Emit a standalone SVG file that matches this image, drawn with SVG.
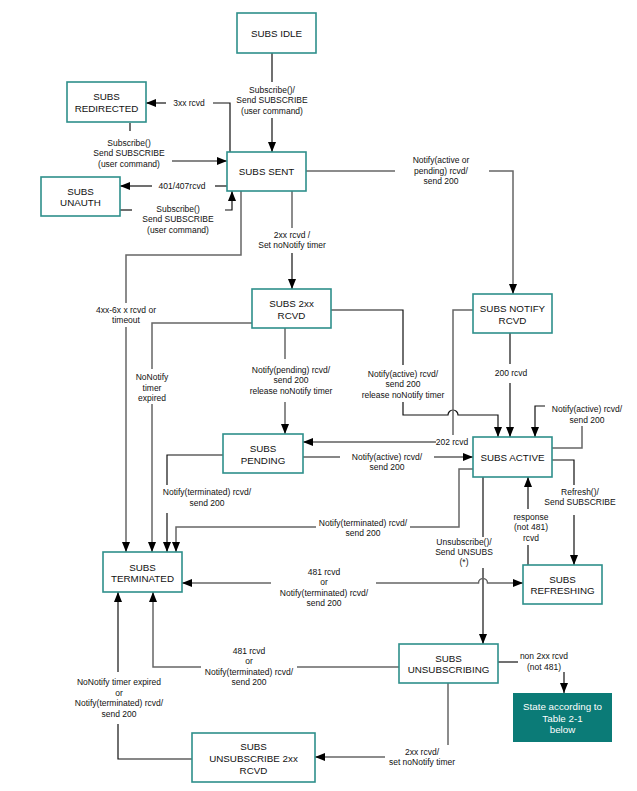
<svg xmlns="http://www.w3.org/2000/svg" width="637" height="791" viewBox="0 0 637 791">
<style>
  .box { fill: #ffffff; stroke: #2e8f8b; stroke-width: 1.6; }
  .fbox { fill: #0b7b77; stroke: none; }
  .n { font-family: "Liberation Sans", Arial, sans-serif; font-size: 9.8px; fill: #111; text-anchor: middle; dominant-baseline: central; }
  .nw { font-family: "Liberation Sans", Arial, sans-serif; font-size: 9.8px; fill: #ffffff; text-anchor: middle; dominant-baseline: central; }
  .l { font-family: "Liberation Sans", Arial, sans-serif; font-size: 8.5px; fill: #111; text-anchor: middle; dominant-baseline: central; }
  .k { fill: none; stroke: #111; stroke-width: 1.2; }
  .g { fill: none; stroke: #666; stroke-width: 1.5; }
</style>
<defs>
  <marker id="ah" markerUnits="userSpaceOnUse" markerWidth="10" markerHeight="8" refX="10" refY="4" orient="auto">
    <path d="M0,0 L10,4 L0,8 z" fill="#000"/>
  </marker>
</defs>
<rect width="637" height="791" fill="#ffffff"/>

<g id="connectors">
  <g id="c-idle-sent"><path class="k" d="M272,53 V82"/><path class="k" d="M272,118 V152" marker-end="url(#ah)"/>
    <text class="l" x="272"><tspan x="272" y="90">Subscribe()/</tspan><tspan x="272" y="100">Send SUBSCRIBE</tspan><tspan x="272" y="111">(user command)</tspan></text></g>
  <g id="c-sent-redirected"><path class="k" d="M230,152 V103 H213"/><path class="k" d="M166,103 H146" marker-end="url(#ah)"/>
    <text class="l" x="189" y="103">3xx rcvd</text></g>
  <g id="c-redirected-sent"><path class="k" d="M130,123 V131"/><path class="k" d="M172,161 H227" marker-end="url(#ah)"/>
    <text class="l"><tspan x="129" y="143">Subscribe()</tspan><tspan x="129" y="153">Send SUBSCRIBE</tspan><tspan x="129" y="164">(user command)</tspan></text></g>
  <g id="c-sent-unauth"><path class="k" d="M227,186 H215"/><path class="k" d="M152,186 H120" marker-end="url(#ah)"/>
    <text class="l" x="182" y="186">401/407rcvd</text></g>
  <g id="c-unauth-sent"><path class="k" d="M120,210 H132"/><path class="k" d="M225,210 H232 V191" marker-end="url(#ah)"/>
    <text class="l"><tspan x="178" y="209">Subscribe()</tspan><tspan x="178" y="219">Send SUBSCRIBE</tspan><tspan x="178" y="230">(user command)</tspan></text></g>
  <g id="c-sent-terminated"><path class="g" d="M241,191 V255 H126 V303"/><path class="g" d="M126,327 V552" marker-end="url(#ah)"/>
    <text class="l"><tspan x="126" y="310">4xx-6x x rcvd or</tspan><tspan x="126" y="320">timeout</tspan></text></g>
  <g id="c-sent-2xx"><path class="g" d="M292,191 V228"/><path class="k" d="M292,253 V289" marker-end="url(#ah)"/>
    <text class="l"><tspan x="292" y="235">2xx rcvd /</tspan><tspan x="292" y="245">Set noNotify timer</tspan></text></g>
  <g id="c-sent-notify"><path class="g" d="M306,171 H395"/><path class="g" d="M489,171 H513 V294" marker-end="url(#ah)"/>
    <text class="l"><tspan x="441" y="160">Notify(active or</tspan><tspan x="441" y="171">pending) rcvd/</tspan><tspan x="441" y="181">send 200</tspan></text></g>
  <g id="c-2xx-terminated"><path class="g" d="M252,323 H152 V369"/><path class="g" d="M152,404 V552" marker-end="url(#ah)"/>
    <text class="l"><tspan x="152" y="377">NoNotify</tspan><tspan x="152" y="388">timer</tspan><tspan x="152" y="398">expired</tspan></text></g>
  <g id="c-2xx-pending"><path class="g" d="M285,328 V359"/><path class="g" d="M285,402 V434" marker-end="url(#ah)"/>
    <text class="l"><tspan x="291" y="370">Notify(pending) rcvd/</tspan><tspan x="291" y="380">send 200</tspan><tspan x="291" y="391">release noNotify timer</tspan></text></g>
  <g id="c-2xx-active"><path class="k" d="M331,310 H403 V365"/><path class="k" d="M403,402 V415 H448 A5,5 0 0 1 458,415 H498 V437" marker-end="url(#ah)"/>
    <text class="l"><tspan x="403" y="374">Notify(active) rcvd/</tspan><tspan x="403" y="384">send 200</tspan><tspan x="403" y="395">release noNotify timer</tspan></text></g>
  <g id="c-notify-pending"><path class="g" d="M473,310 H453 V435"/><path class="k" d="M436,442 H303" marker-end="url(#ah)"/>
    <text class="l" x="452" y="442">202 rcvd</text></g>
  <g id="c-notify-active"><path class="k" d="M510,333 V364"/><path class="k" d="M510,383 V437" marker-end="url(#ah)"/>
    <text class="l" x="511" y="373">200 rcvd</text></g>
  <g id="c-active-self"><path class="g" d="M552,448 H582 V426"/><path class="k" d="M545,406 H535 V437" marker-end="url(#ah)"/>
    <text class="l"><tspan x="587" y="409">Notify(active) rcvd/</tspan><tspan x="587" y="420">send 200</tspan></text></g>
  <g id="c-pending-active"><path class="k" d="M303,457 H340"/><path class="k" d="M434,457 H473" marker-end="url(#ah)"/>
    <text class="l"><tspan x="387" y="457">Notify(active) rcvd/</tspan><tspan x="387" y="467">send 200</tspan></text></g>
  <g id="c-active-terminated"><path class="g" d="M473,469 H459 V527 H410"/><path class="g" d="M316,527 H176 V552" marker-end="url(#ah)"/>
    <text class="l"><tspan x="363" y="523">Notify(terminated) rcvd/</tspan><tspan x="363" y="533">send 200</tspan></text></g>
  <g id="c-pending-terminated"><path class="k" d="M223,455 H167 V485"/><path class="k" d="M167,513 V552" marker-end="url(#ah)"/>
    <text class="l"><tspan x="207" y="492">Notify(terminated) rcvd/</tspan><tspan x="207" y="503">send 200</tspan></text></g>
  <g id="c-active-refreshing"><path class="k" d="M552,460 H574 V485"/><path class="k" d="M574,515 V565" marker-end="url(#ah)"/>
    <text class="l"><tspan x="580" y="492">Refresh()/</tspan><tspan x="580" y="502">Send SUBSCRIBE</tspan></text></g>
  <g id="c-refreshing-active"><path class="k" d="M528,565 V545"/><path class="k" d="M528,509 V477" marker-end="url(#ah)"/>
    <text class="l"><tspan x="531" y="517">response</tspan><tspan x="531" y="527">(not 481)</tspan><tspan x="531" y="538">rcvd</tspan></text></g>
  <g id="c-active-unsubscribing"><path class="k" d="M483,477 V537"/><path class="k" d="M483,568 V644" marker-end="url(#ah)"/>
    <text class="l"><tspan x="464" y="542">Unsubscribe()/</tspan><tspan x="464" y="552">Send UNSUBS</tspan><tspan x="464" y="562">(*)</tspan></text></g>
  <g id="c-481-terminated-refreshing"><path class="g" d="M271,583 H182" marker-end="url(#ah)"/><path class="g" d="M376,583 H478.5 A4.5,4.5 0 0 1 487.5,583 H523" marker-end="url(#ah)"/>
    <text class="l"><tspan x="324" y="572">481 rcvd</tspan><tspan x="324" y="582">or</tspan><tspan x="324" y="593">Notify(terminated) rcvd/</tspan><tspan x="324" y="603">send 200</tspan></text></g>
  <g id="c-unsubscribing-terminated"><path class="g" d="M399,667 H297"/><path class="g" d="M201,667 H153 V592" marker-end="url(#ah)"/>
    <text class="l"><tspan x="249" y="651">481 rcvd</tspan><tspan x="249" y="661">or</tspan><tspan x="249" y="672">Notify(terminated) rcvd/</tspan><tspan x="249" y="682">send 200</tspan></text></g>
  <g id="c-unsub2xx-terminated"><path class="k" d="M192,759 H118 V724"/><path class="k" d="M118,672 V592" marker-end="url(#ah)"/>
    <text class="l"><tspan x="119" y="682">NoNotify timer expired</tspan><tspan x="119" y="693">or</tspan><tspan x="119" y="703">Notify(terminated) rcvd/</tspan><tspan x="119" y="714">send 200</tspan></text></g>
  <g id="c-unsubscribing-unsub2xx"><path class="g" d="M448,683 V745"/><path class="g" d="M385,757 H315" marker-end="url(#ah)"/>
    <text class="l"><tspan x="422" y="752">2xx rcvd/</tspan><tspan x="422" y="762">set noNotify timer</tspan></text></g>
  <g id="c-unsubscribing-table"><path class="k" d="M498,662 H518"/><path class="k" d="M564,672 V693" marker-end="url(#ah)"/>
    <text class="l"><tspan x="544" y="656">non 2xx rcvd</tspan><tspan x="544" y="667">(not 481)</tspan></text></g>
</g>

<g id="subs-idle"><rect class="box" x="237" y="13" width="79" height="40"/><text class="n" x="276.5" y="33">SUBS IDLE</text></g>
<g id="subs-redirected"><rect class="box" x="67" y="82" width="79" height="40"/><text class="n"><tspan x="106.5" y="96">SUBS</tspan><tspan x="106.5" y="108">REDIRECTED</tspan></text></g>
<g id="subs-sent"><rect class="box" x="227" y="152" width="79" height="39"/><text class="n" x="266.5" y="171.5">SUBS SENT</text></g>
<g id="subs-unauth"><rect class="box" x="41" y="177" width="79" height="39"/><text class="n"><tspan x="80.5" y="191">SUBS</tspan><tspan x="80.5" y="202">UNAUTH</tspan></text></g>
<g id="subs-2xx-rcvd"><rect class="box" x="252" y="289" width="79" height="39"/><text class="n"><tspan x="291.5" y="303">SUBS 2xx</tspan><tspan x="291.5" y="314.5">RCVD</tspan></text></g>
<g id="subs-notify-rcvd"><rect class="box" x="473" y="294" width="79" height="39"/><text class="n"><tspan x="512.5" y="308">SUBS NOTIFY</tspan><tspan x="512.5" y="319.5">RCVD</tspan></text></g>
<g id="subs-pending"><rect class="box" x="223" y="434" width="80" height="39"/><text class="n"><tspan x="263" y="448">SUBS</tspan><tspan x="263" y="459.5">PENDING</tspan></text></g>
<g id="subs-active"><rect class="box" x="473" y="437" width="79" height="40"/><text class="n" x="512.5" y="457">SUBS ACTIVE</text></g>
<g id="subs-terminated"><rect class="box" x="103" y="552" width="79" height="40"/><text class="n"><tspan x="142.5" y="566.5">SUBS</tspan><tspan x="142.5" y="578">TERMINATED</tspan></text></g>
<g id="subs-refreshing"><rect class="box" x="523" y="565" width="79" height="39"/><text class="n"><tspan x="562.5" y="579">SUBS</tspan><tspan x="562.5" y="590">REFRESHING</tspan></text></g>
<g id="subs-unsubscribing"><rect class="box" x="399" y="644" width="99" height="39"/><text class="n"><tspan x="448.5" y="658">SUBS</tspan><tspan x="448.5" y="669">UNSUBSCRIBING</tspan></text></g>
<g id="state-table"><rect class="fbox" x="513" y="693" width="99" height="49"/><text class="nw"><tspan x="562.5" y="706">State according to</tspan><tspan x="562.5" y="718">Table 2-1</tspan><tspan x="562.5" y="729">below</tspan></text></g>
<g id="subs-unsubscribe-2xx-rcvd"><rect class="box" x="192" y="733" width="123" height="49"/><text class="n"><tspan x="253.5" y="745.5">SUBS</tspan><tspan x="253.5" y="757.5">UNSUBSCRIBE 2xx</tspan><tspan x="253.5" y="769.5">RCVD</tspan></text></g>
</svg>
